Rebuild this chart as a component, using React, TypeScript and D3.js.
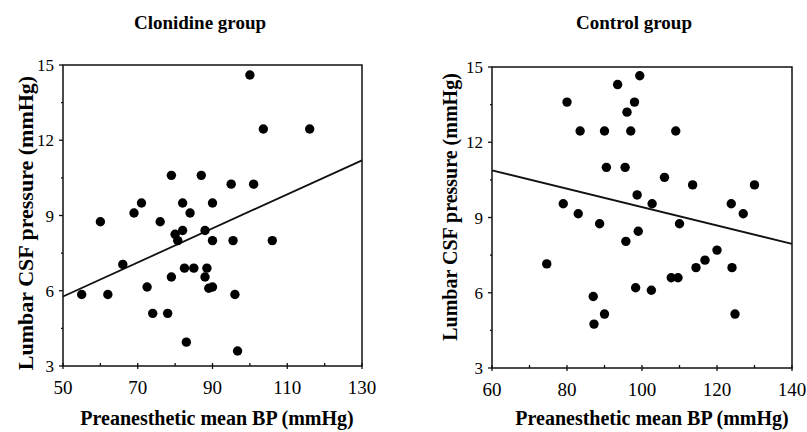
import React, { useRef, useEffect } from 'react';
import * as d3 from 'd3';

// Clonidine group (BP mmHg, lumbar CSF mmHg)
const clonidineBP = [55, 60, 62, 66, 69, 71, 72.5, 74, 76, 78, 79, 79, 80, 80.7, 82, 82, 82.5, 83, 84, 85, 87, 88, 88, 88.5, 89, 90, 90, 90, 95, 95.5, 96, 96.7, 100, 101, 103.6, 106, 116];
const clonidineCSF = [5.85, 8.75, 5.85, 7.05, 9.1, 9.5, 6.15, 5.1, 8.75, 5.1, 10.6, 6.55, 8.25, 8.0, 8.4, 9.5, 6.9, 3.95, 9.1, 6.9, 10.6, 6.55, 8.4, 6.9, 6.1, 6.15, 8.0, 9.5, 10.25, 8.0, 5.85, 3.6, 14.6, 10.25, 12.45, 8.0, 12.45];
const clonidineFitBP = [50, 130];
const clonidineFitCSF = [5.77, 11.2];

// Control group
const controlBP = [74.6, 79, 80, 83, 83.5, 87, 87.2, 88.7, 90, 90, 90.5, 93.5, 95.5, 95.7, 96, 97, 98, 98.3, 98.7, 99, 99.4, 102.5, 102.7, 106, 107.8, 109, 109.6, 110, 113.5, 114.4, 116.8, 120, 123.8, 124, 124.8, 127, 130];
const controlCSF = [7.15, 9.55, 13.6, 9.15, 12.45, 5.85, 4.75, 8.75, 5.15, 12.45, 11.0, 14.3, 11.0, 8.05, 13.2, 12.45, 13.6, 6.2, 9.9, 8.45, 14.65, 6.1, 9.55, 10.6, 6.6, 12.45, 6.6, 8.75, 10.3, 7.0, 7.3, 7.7, 9.55, 7.0, 5.15, 9.15, 10.3];
const controlFitBP = [60, 140];
const controlFitCSF = [10.88, 7.95];

const clonidineXTicks = [50, 70, 90, 110, 130];
const controlXTicks = [60, 80, 100, 120, 140];
const yTicks = [3, 6, 9, 12, 15];

const titles = ['Clonidine group', 'Control group'];
const xLabel = 'Preanesthetic mean BP (mmHg)';
const yLabel = 'Lumbar CSF pressure (mmHg)';

const FONT = "'Liberation Serif', 'DejaVu Serif', serif";

const App = () => {
  const ref = useRef(null);

  useEffect(() => {
    const svg = d3.select(ref.current);
    svg.selectAll('*').remove();

    const panels = [
      {
        bp: clonidineBP, csf: clonidineCSF, fitBP: clonidineFitBP, fitCSF: clonidineFitCSF,
        xTicks: clonidineXTicks, left: 63, right: 362, top: 65, bottom: 366,
        title: titles[0], titleX: 200, xLabelX: 217, yLabelX: 33, yLabelY: 223, yLabelSize: 22,
      },
      {
        bp: controlBP, csf: controlCSF, fitBP: controlFitBP, fitCSF: controlFitCSF,
        xTicks: controlXTicks, left: 492, right: 792, top: 67, bottom: 368,
        title: titles[1], titleX: 634, xLabelX: 652, yLabelX: 457, yLabelY: 207, yLabelSize: 20,
      },
    ];

    panels.forEach((p) => {
      const x = d3.scaleLinear().domain(d3.extent(p.xTicks)).range([p.left, p.right]);
      const y = d3.scaleLinear().domain(d3.extent(yTicks)).range([p.bottom, p.top]);
      const g = svg.append('g').style('font-family', FONT);

      // frame
      g.append('rect')
        .attr('x', p.left).attr('y', p.top)
        .attr('width', p.right - p.left).attr('height', p.bottom - p.top)
        .attr('fill', 'none').attr('stroke', '#111').attr('stroke-width', 1.5);

      // x ticks every 10
      const xMinor = d3.range(x.domain()[0], x.domain()[1] + 1, 10);
      g.selectAll('.xt').data(xMinor).enter().append('line')
        .attr('x1', (d) => x(d)).attr('x2', (d) => x(d))
        .attr('y1', p.bottom - 3)
        .attr('y2', (d) => (p.xTicks.includes(d) ? p.bottom + 3 : p.bottom))
        .attr('stroke', '#111').attr('stroke-width', 1.3);
      g.selectAll('.xl').data(p.xTicks).enter().append('text')
        .attr('x', (d) => x(d)).attr('y', p.bottom + 28)
        .attr('text-anchor', 'middle')
        .style('font-size', '19px')
        .text((d) => d);

      // y ticks
      const yMinor = d3.range(3, 15.01, 1.5);
      g.selectAll('.yt').data(yMinor).enter().append('line')
        .attr('x1', (d) => (yTicks.includes(d) ? p.left - 4 : p.left - 2)).attr('x2', p.left)
        .attr('y1', (d) => y(d)).attr('y2', (d) => y(d))
        .attr('stroke', '#111').attr('stroke-width', 1.3);
      g.selectAll('.yl').data(yTicks).enter().append('text')
        .attr('x', p.left - 9).attr('y', (d) => y(d) + 6)
        .attr('text-anchor', 'end')
        .style('font-size', '17px')
        .text((d) => d);

      // regression line
      const line = d3.line().x((d) => x(d[0])).y((d) => y(d[1]));
      g.append('path')
        .datum(d3.zip(p.fitBP, p.fitCSF))
        .attr('d', line)
        .attr('fill', 'none').attr('stroke', '#111').attr('stroke-width', 1.8);

      // points
      g.selectAll('circle').data(d3.zip(p.bp, p.csf)).enter().append('circle')
        .attr('cx', (d) => x(d[0])).attr('cy', (d) => y(d[1]))
        .attr('r', 4.7).attr('fill', '#000');

      // labels
      g.append('text')
        .attr('x', p.titleX).attr('y', 29)
        .attr('text-anchor', 'middle')
        .style('font-weight', 'bold').style('font-size', '19px')
        .text(p.title);
      g.append('text')
        .attr('x', p.xLabelX).attr('y', 425)
        .attr('text-anchor', 'middle')
        .style('font-weight', 'bold').style('font-size', '20px')
        .text(xLabel);
      g.append('text')
        .attr('transform', `translate(${p.yLabelX}, ${p.yLabelY}) rotate(-90)`)
        .attr('text-anchor', 'middle')
        .style('font-weight', 'bold').style('font-size', `${p.yLabelSize}px`)
        .text(yLabel);
    });
  }, []);

  return (
    <svg
      ref={ref}
      width={807}
      height={432}
      style={{ position: 'absolute', left: 0, top: 0, background: '#fff' }}
    />
  );
};

export default App;
